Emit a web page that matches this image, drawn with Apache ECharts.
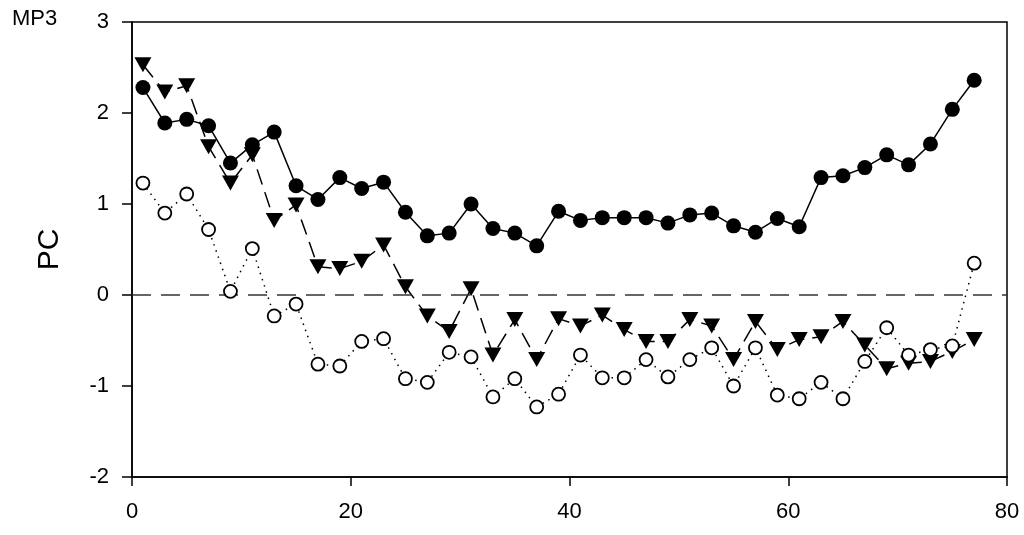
<!DOCTYPE html>
<html>
<head>
<meta charset="utf-8">
<script src="https://cdn.jsdelivr.net/npm/echarts@6/dist/echarts.min.js"></script>
<style>
  html, body { margin: 0; padding: 0; background: #fff; }
  #chart { width: 1024px; height: 535px; }
</style>
</head>
<body>
<div id="chart"></div>
<script>
// sample positions (odd numbers 1..77)
var xVals = [1, 3, 5, 7, 9, 11, 13, 15, 17, 19, 21, 23, 25, 27, 29, 31, 33, 35, 37, 39,
  41, 43, 45, 47, 49, 51, 53, 55, 57, 59, 61, 63, 65, 67, 69, 71, 73, 75, 77];

// filled circles, solid line
var filledCircle = [2.28, 1.89, 1.93, 1.86, 1.45, 1.65, 1.79, 1.20, 1.05, 1.29,
  1.17, 1.24, 0.91, 0.65, 0.68, 1.00, 0.73, 0.68, 0.54, 0.92,
  0.82, 0.85, 0.85, 0.85, 0.79, 0.88, 0.90, 0.76, 0.69, 0.84,
  0.75, 1.29, 1.31, 1.40, 1.54, 1.43, 1.66, 2.04, 2.36];

// filled down triangles, dashed line
var downTriangle = [2.53, 2.23, 2.30, 1.63, 1.23, 1.54, 0.82, 0.99, 0.31, 0.29,
  0.37, 0.55, 0.09, -0.23, -0.40, 0.07, -0.66, -0.27, -0.71, -0.26,
  -0.34, -0.22, -0.38, -0.51, -0.51, -0.27, -0.34, -0.71, -0.29, -0.60,
  -0.49, -0.46, -0.29, -0.55, -0.81, -0.75, -0.73, -0.62, -0.49];

// open circles, dotted line
var openCircle = [1.23, 0.90, 1.11, 0.72, 0.04, 0.51, -0.23, -0.10, -0.76, -0.78,
  -0.51, -0.48, -0.92, -0.96, -0.63, -0.68, -1.12, -0.92, -1.23, -1.09,
  -0.66, -0.91, -0.91, -0.71, -0.90, -0.71, -0.58, -1.00, -0.58, -1.10,
  -1.14, -0.96, -1.14, -0.73, -0.36, -0.66, -0.60, -0.56, 0.35];

var yTicks = [-2, -1, 0, 1, 2, 3];
var xTicks = [0, 20, 40, 60, 80];

function pairs(ys) {
  return xVals.map(function (x, i) { return [x, ys[i]]; });
}

var myChart = echarts.init(document.getElementById("chart"));
var fontName = "Arial, 'Liberation Sans', sans-serif";

var option = {
  backgroundColor: "#fff",
  animation: false,
  textStyle: { fontFamily: fontName },
  title: {
    text: "MP3",
    left: 7,
    top: 5,
    padding: [3, 5],
    textStyle: { color: "#000", fontSize: 22, fontWeight: "normal", fontFamily: fontName }
  },
  grid: {
    left: 132,
    right: 17,
    top: 22,
    bottom: 58,
    show: true,
    borderColor: "#000",
    borderWidth: 1.5,
    backgroundColor: "transparent"
  },
  xAxis: {
    type: "value",
    min: xTicks[0],
    max: xTicks[xTicks.length - 1],
    interval: 20,
    axisLine: { show: true, onZero: false, lineStyle: { color: "#000", width: 1.5 } },
    axisTick: { show: true, inside: false, length: 9, lineStyle: { color: "#000", width: 1.5 } },
    axisLabel: { color: "#000", fontSize: 22, margin: 24, fontFamily: fontName },
    splitLine: { show: false }
  },
  yAxis: {
    type: "value",
    min: yTicks[0],
    max: yTicks[yTicks.length - 1],
    interval: 1,
    name: "PC",
    nameLocation: "middle",
    nameGap: 67,
    nameRotate: 90,
    nameTextStyle: { color: "#000", fontSize: 30, fontFamily: fontName },
    axisLine: { show: true, onZero: false, lineStyle: { color: "#000", width: 1.5 } },
    axisTick: { show: true, inside: false, length: 10, lineStyle: { color: "#000", width: 1.5 } },
    axisLabel: { color: "#000", fontSize: 22, margin: 23, fontFamily: fontName },
    splitLine: { show: false }
  },
  series: [
    {
      name: "filled",
      type: "line",
      data: pairs(filledCircle),
      symbol: "circle",
      symbolSize: 15,
      lineStyle: { color: "#000", width: 1.5, type: "solid" },
      itemStyle: { color: "#000", borderColor: "#000", borderWidth: 0 },
      markLine: {
        silent: true,
        symbol: "none",
        label: { show: false },
        lineStyle: { color: "#333", width: 1.5, type: [19, 10] },
        data: [{ yAxis: 0 }]
      },
      z: 3
    },
    {
      name: "triangle",
      type: "line",
      data: pairs(downTriangle),
      symbol: "triangle",
      symbolRotate: 180,
      symbolSize: [17, 15],
      lineStyle: { color: "#000", width: 1.5, type: [16, 8] },
      itemStyle: { color: "#000", borderColor: "#000", borderWidth: 0 },
      z: 4
    },
    {
      name: "open",
      type: "line",
      data: pairs(openCircle),
      symbol: "circle",
      symbolSize: 13,
      lineStyle: { color: "#000", width: 1.5, type: [1.5, 5] },
      itemStyle: { color: "#fff", borderColor: "#000", borderWidth: 1.8 },
      z: 5
    }
  ]
};

myChart.setOption(option);
window.onresize = function () {
  myChart.resize();
};
</script>
</body>
</html>
